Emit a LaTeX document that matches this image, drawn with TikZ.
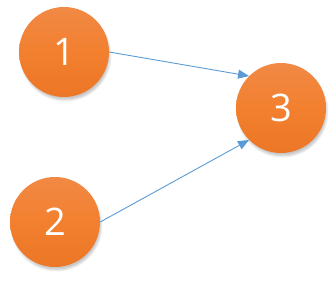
\documentclass[tikz,border=0pt]{standalone}
\usepackage{fontspec}
\setmainfont{Open Sans}
\usetikzlibrary{arrows.meta,shadings}
\definecolor{otop}{HTML}{F0915A}
\definecolor{omid}{HTML}{F2802F}
\definecolor{obot}{HTML}{E66D1C}
\definecolor{arr}{HTML}{5B9BD5}
\pgfdeclareverticalshading{orangeball}{100bp}{color(0bp)=(obot);color(50bp)=(omid);color(100bp)=(otop)}
\tikzset{
  ball/.style={circle, minimum size=90pt, inner sep=0pt, shading=orangeball, text=white, font=\fontsize{38}{38}\selectfont},
  link/.style={draw=arr, line width=0.9pt, -{Triangle[length=11pt,width=9pt]}},
  shadowc/.style={fill=black, opacity=0.06}
}
\begin{document}
\begin{tikzpicture}[x=1pt,y=1pt]
\useasboundingbox (0,0) rectangle (336,-281);
% soft shadows
\foreach \c in {(64,-52),(55,-222),(281,-108)}{
  \foreach \r in {46,45,44,43}{
    \fill[shadowc] \c ++(1.5,-3.5) circle (\r);
  }
}
\node[ball] (n1) at (64,-52) {1};
\node[ball] (n2) at (55,-222) {2};
\node[ball] (n3) at (281,-108) {3};
\draw[link] (n1.east) -- (n3.135);
\draw[link] (n2.east) -- (n3.225);
\end{tikzpicture}
\end{document}
